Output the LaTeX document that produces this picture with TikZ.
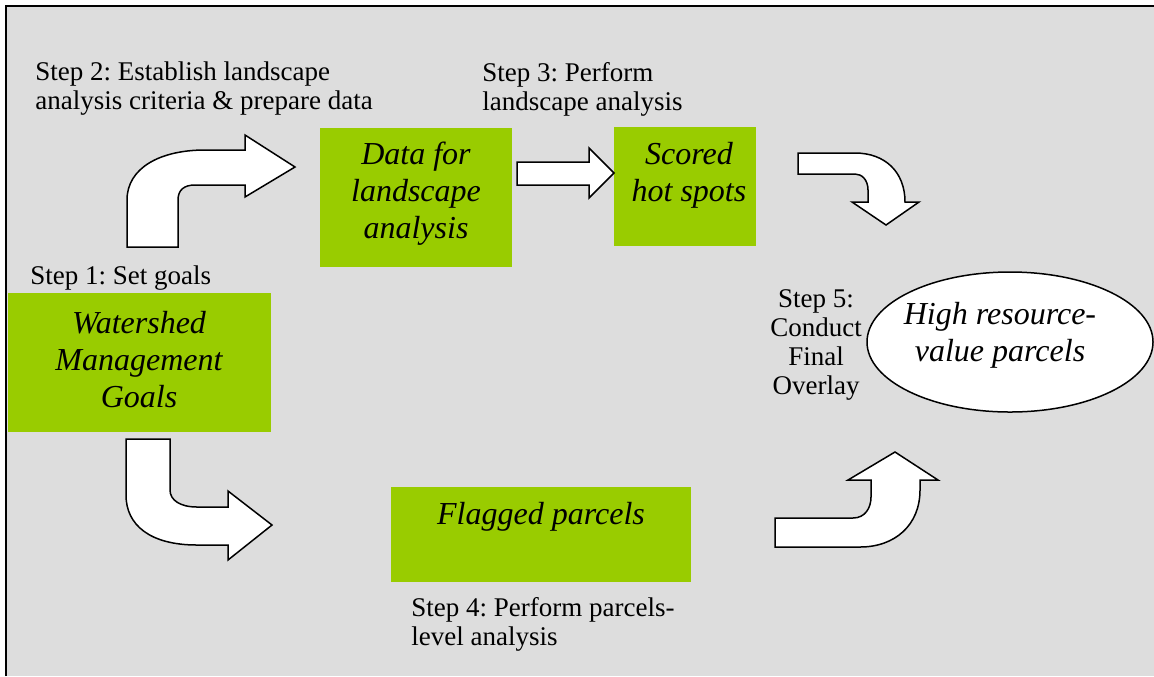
\documentclass[tikz,border=0pt]{standalone}
\usepackage{fontspec}
\setmainfont{Liberation Serif}
\frenchspacing
\usetikzlibrary{fit,shapes.geometric}
\definecolor{bggray}{HTML}{DDDDDD}
\definecolor{boxgreen}{HTML}{99CC00}
\begin{document}
\begin{tikzpicture}[x=0.5pt, y=-0.5pt,
    greenbox/.style={fill=boxgreen, inner sep=0pt},
    boxtext/.style={inner sep=0pt, align=center, font=\fontsize{16}{18.5}\selectfont\itshape},
    steptext/.style={inner sep=0pt, font=\fontsize{13.5}{14.5}\selectfont},
    blockarrow/.style={draw=black, fill=white, line width=0.75pt, line join=miter}]
        \useasboundingbox (0,0) rectangle (1154,676);
        % Background and frame
        \fill[bggray] (6,6) rectangle (1154,676);
        \draw[line width=1pt] (6,676) -- (6,6) -- (1154,6);
        % Green boxes
        \node[greenbox, fit={(8,293) (271,432)}] (goalsbox) {};
        \node[greenbox, fit={(320,128) (512,267)}] (databox) {};
        \node[greenbox, fit={(614,127) (756,246)}] (hotbox) {};
        \node[greenbox, fit={(391,487) (691,582)}] (flagbox) {};
        % Final result
        \node[ellipse, draw, fill=white, line width=0.75pt, minimum width=143pt, minimum height=70pt] (resultbox) at (1010,342) {};
        % Box texts
        \node[boxtext] (goals) at (139,360) {Watershed\\Management\\Goals};
        \node[boxtext] (data) at (416,194) {Data for\\landscape\\analysis};
        \node[boxtext] (hot) at (689,175) {Scored\\hot spots};
        \node[boxtext] (flag) at (541,517) {Flagged parcels};
        \node[boxtext] (result) at (1000,335) {High resource-\\value parcels};
        % Step labels
        \node[steptext, anchor=west] (step1) at (30,278) {Step 1: Set goals};
        \node[steptext, anchor=west, align=left] (step2) at (35,89) {Step 2: Establish landscape\\analysis criteria \& prepare data};
        \node[steptext, anchor=west, align=left] (step3) at (482,89) {Step 3: Perform\\landscape analysis};
        \node[steptext, anchor=west, align=left] (step4) at (411,624) {Step 4: Perform parcels-\\level analysis};
        \node[steptext, align=center] (step5) at (816,345) {Step 5:\\Conduct\\Final\\Overlay};
        % Step 2 arrow (up and right)
        \draw[blockarrow] (127,247) -- (127,200) .. controls (127,168) and (160,150) .. (205,150)
            -- (245,150) -- (245,135) -- (295,167) -- (245,197) -- (245,185) -- (195,185)
            .. controls (184,185) and (178,190) .. (178,200) -- (178,247) -- cycle;
        % Step 3 arrow
        \draw[blockarrow] (517,162) -- (589,162) -- (589,148) -- (614,173) -- (589,198)
            -- (589,185) -- (517,185) -- cycle;
        % Step 5 arrow from hot spots (right and down)
        \draw[blockarrow] (798,153) -- (855,153) .. controls (885,153) and (905,172) .. (905,202)
            -- (919,202) -- (886,225) -- (852,202) -- (868,202) -- (868,190)
            .. controls (868,180) and (862,174) .. (855,174) -- (798,174) -- cycle;
        % Step 4 arrow (down and right)
        \draw[blockarrow] (126,439) -- (170,439) -- (170,490) .. controls (170,500) and (180,507) .. (197,507)
            -- (228,507) -- (228,491) -- (272,525) -- (228,560) -- (228,545) -- (197,545)
            .. controls (150,545) and (126,525) .. (126,495) -- cycle;
        % Step 5 arrow from flagged parcels (right and up)
        \draw[blockarrow] (775,518) -- (853,518) .. controls (865,518) and (871,508) .. (871,497)
            -- (871,480) -- (848,480) -- (895,452) -- (938,480) -- (920,480) -- (920,490)
            .. controls (920,525) and (895,547) .. (860,547) -- (775,547) -- cycle;
\end{tikzpicture}
\end{document}
